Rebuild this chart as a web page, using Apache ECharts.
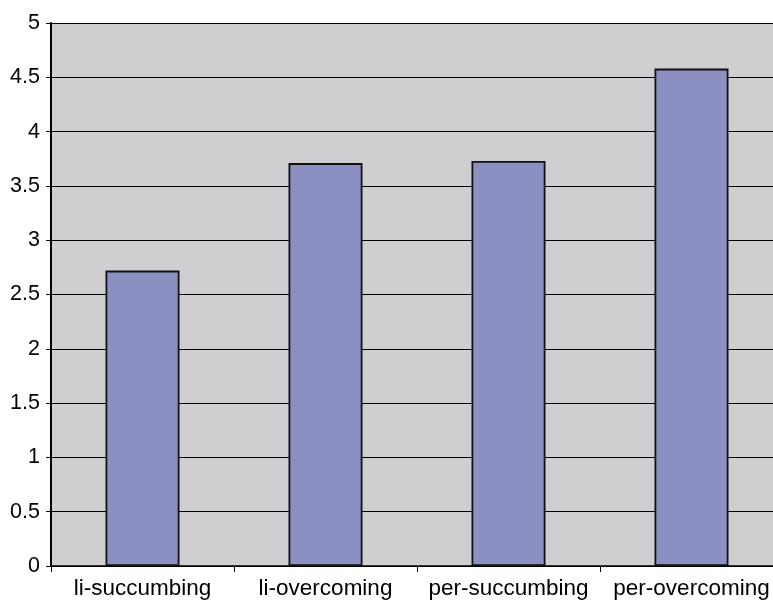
<!DOCTYPE html>
<html>
<head>
<meta charset="utf-8">
<script src="https://cdn.jsdelivr.net/npm/echarts@6/dist/echarts.min.js"></script>
<style>
  html, body { margin: 0; padding: 0; background: #fff; overflow: hidden; }
  #chart { width: 783px; height: 602px; }
</style>
</head>
<body>
<div id="chart"></div>
<script>
let categories = ['li-succumbing', 'li-overcoming', 'per-succumbing', 'per-overcoming'];
let values = [2.72, 3.71, 3.73, 4.58];
let yTicks = [0, 0.5, 1, 1.5, 2, 2.5, 3, 3.5, 4, 4.5, 5];

let chart = echarts.init(document.getElementById('chart'), null, { renderer: 'canvas' });

// the plot runs past the right edge of the window, as in the reference
let option = {
  animation: false,
  grid: {
    left: 51,
    right: 0,
    top: 23,
    bottom: 36,
    show: true,
    backgroundColor: '#cfcfd1',
    borderWidth: 0
  },
  xAxis: {
    type: 'category',
    data: categories,
    axisLine: { show: true, lineStyle: { color: '#000', width: 1.5 } },
    axisTick: { show: true, length: 6, lineStyle: { color: '#000', width: 1 } },
    axisLabel: {
      color: '#000',
      fontFamily: 'Liberation Sans, Arial, sans-serif',
      fontSize: 22.5,
      margin: 11,
      interval: 0
    }
  },
  yAxis: {
    type: 'value',
    min: yTicks[0],
    max: yTicks[yTicks.length - 1],
    interval: 0.5,
    axisLine: { show: true, lineStyle: { color: '#000', width: 2 } },
    axisTick: { show: true, length: 5, lineStyle: { color: '#000', width: 1 } },
    splitLine: { show: true, lineStyle: { color: '#000', width: 1 } },
    axisLabel: {
      color: '#000',
      fontFamily: 'Liberation Sans, Arial, sans-serif',
      fontSize: 21.5,
      margin: 11,
      formatter: function (v) { return String(v); }
    }
  },
  series: [{
    type: 'bar',
    data: values,
    barWidth: 74,
    itemStyle: { color: '#8b8fc2', borderColor: '#111', borderWidth: 1.8 }
  }]
};

chart.setOption(option);
</script>
</body>
</html>
